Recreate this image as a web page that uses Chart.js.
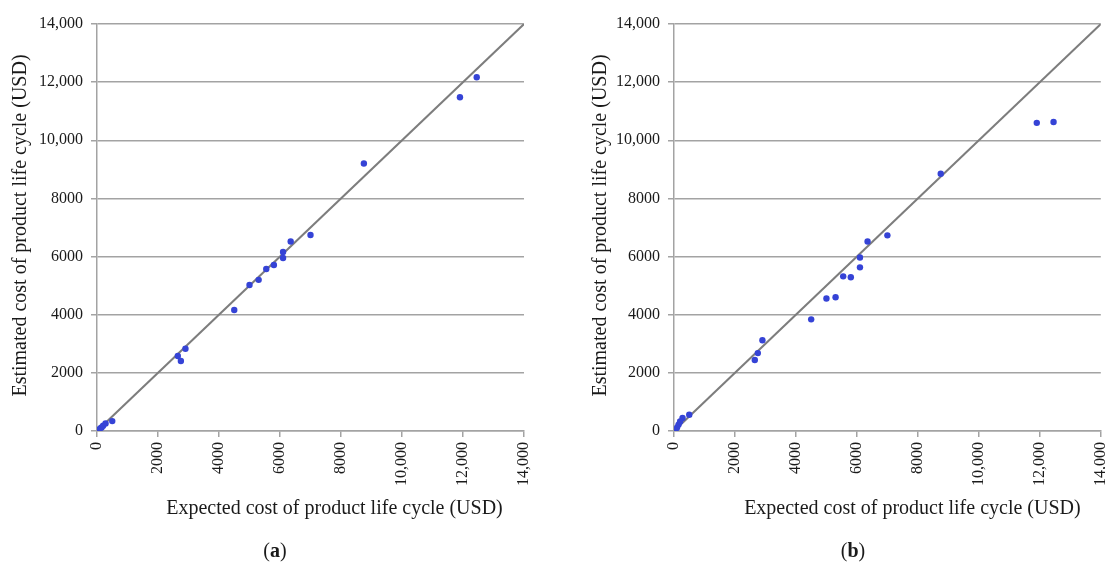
<!DOCTYPE html>
<html>
<head>
<meta charset="utf-8">
<script src="https://cdn.jsdelivr.net/npm/chart.js@4/dist/chart.umd.min.js"></script>
<style>
  html, body { margin: 0; padding: 0; background: #ffffff; }
  #wrap { position: relative; width: 1105px; height: 563px; overflow: hidden; }
  canvas { position: absolute; top: 0; }
  #cvA { left: 0; }
  #cvB { left: 560px; }
</style>
</head>
<body>
<div id="wrap">
  <canvas id="cvA" width="552" height="563"></canvas>
  <canvas id="cvB" width="565" height="563"></canvas>
</div>
<script>
// Expected life-cycle cost of each product (USD), shared by both panels
const expectedCost = [50, 100, 150, 200, 280, 500, 2650, 2750, 2900, 4500, 5000, 5300, 5550, 5800, 6100, 6100, 6350, 7000, 8750, 11900, 12450];
// Estimated life-cycle cost, panel (a)
const estimatedA = [40, 90, 120, 180, 260, 340, 2580, 2410, 2830, 4160, 5020, 5200, 5570, 5710, 5950, 6160, 6520, 6740, 9200, 11480, 12170];
// Estimated life-cycle cost, panel (b)
const estimatedB = [20, 120, 220, 330, 450, 560, 2440, 2680, 3120, 3840, 4560, 4600, 5320, 5290, 5630, 5970, 6520, 6730, 8850, 10600, 10630];
// Axis range and tick step
const axisMin = 0;
const axisMax = 14000;
const tickStep = 2000;
// Text
const xTitle = 'Expected cost of product life cycle (USD)';
const yTitle = 'Estimated cost of product life cycle (USD)';
const panelLetters = ['a', 'b'];

const SERIF = '"Liberation Serif", "Times New Roman", serif';
const GRID = '#a3a3a3';
const DOT = '#3543d6';
const REF = '#7d7d7d';

function fmtTick(v) {
  if (v >= 10000) {
    const s = String(v);
    return s.slice(0, s.length - 3) + ',' + s.slice(s.length - 3);
  }
  return String(v);
}

// Draws axis titles and the panel caption around the plot area
const decorations = {
  id: 'decorations',
  afterDraw(chart, args, opts) {
    const ctx = chart.ctx;
    const a = chart.chartArea;
    ctx.save();
    ctx.fillStyle = '#1a1a1a';
    ctx.font = '20px ' + SERIF;
    ctx.textAlign = 'center';
    ctx.textBaseline = 'alphabetic';
    ctx.fillText(xTitle, (a.left + a.right) / 2 + opts.xTitleShift, a.bottom + 83);

    ctx.save();
    ctx.translate(opts.yTitleX, (a.top + a.bottom) / 2 - 2);
    ctx.rotate(-Math.PI / 2);
    ctx.textBaseline = 'middle';
    ctx.fillText(yTitle, 0, 0);
    ctx.restore();

    // caption "(a)" / "(b)" with bold letter
    const cy = a.bottom + 126;
    ctx.font = '20px ' + SERIF;
    const wOpen = ctx.measureText('(').width;
    const wClose = ctx.measureText(')').width;
    ctx.font = 'bold 20px ' + SERIF;
    const wLetter = ctx.measureText(opts.letter).width;
    const total = wOpen + wLetter + wClose;
    let x = opts.captionX - total / 2;
    ctx.textAlign = 'left';
    ctx.font = '20px ' + SERIF;
    ctx.fillText('(', x, cy);
    x += wOpen;
    ctx.font = 'bold 20px ' + SERIF;
    ctx.fillText(opts.letter, x, cy);
    x += wLetter;
    ctx.font = '20px ' + SERIF;
    ctx.fillText(')', x, cy);
    ctx.restore();
  }
};

function makePanel(canvasId, estimated, cfg) {
  const points = expectedCost.map((x, i) => ({ x: x, y: estimated[i] }));
  const refLine = [{ x: axisMin, y: axisMin }, { x: axisMax, y: axisMax }];
  return new Chart(document.getElementById(canvasId), {
    type: 'scatter',
    data: {
      datasets: [
        {
          data: points,
          backgroundColor: DOT,
          borderColor: DOT,
          pointRadius: 3.2,
          pointBorderWidth: 0,
          order: 1
        },
        {
          type: 'line',
          data: refLine,
          borderColor: REF,
          borderWidth: 2,
          pointRadius: 0,
          fill: false,
          order: 2
        }
      ]
    },
    options: {
      responsive: false,
      animation: false,
      events: [],
      layout: { padding: { top: 24, right: cfg.padRight, left: 0, bottom: 0 } },
      plugins: {
        legend: { display: false },
        tooltip: { enabled: false },
        decorations: cfg.deco
      },
      scales: {
        x: {
          type: 'linear',
          min: axisMin,
          max: axisMax,
          afterFit(scale) { scale.height = 132; },
          ticks: {
            stepSize: tickStep,
            maxRotation: 90,
            minRotation: 90,
            padding: 5,
            color: '#1a1a1a',
            font: { family: SERIF, size: 16 },
            callback: (v) => fmtTick(v)
          },
          grid: {
            drawOnChartArea: false,
            drawTicks: true,
            tickLength: 6,
            color: GRID,
            lineWidth: 1.5
          },
          border: { display: true, color: GRID, width: 1.5 }
        },
        y: {
          type: 'linear',
          min: axisMin,
          max: axisMax,
          afterFit(scale) { scale.width = cfg.yWidth; },
          ticks: {
            stepSize: tickStep,
            padding: 8,
            color: '#1a1a1a',
            font: { family: SERIF, size: 16 },
            callback: (v) => fmtTick(v)
          },
          grid: {
            drawOnChartArea: true,
            drawTicks: true,
            tickLength: 6,
            color: GRID,
            lineWidth: 1.5
          },
          border: { display: true, color: GRID, width: 1.5 }
        }
      }
    },
    plugins: [decorations]
  });
}

makePanel('cvA', estimatedA, {
  yWidth: 97, padRight: 28,
  deco: { letter: panelLetters[0], yTitleX: 21, xTitleShift: 24, captionX: 275 }
});
makePanel('cvB', estimatedB, {
  yWidth: 114, padRight: 20,
  deco: { letter: panelLetters[1], yTitleX: 41, xTitleShift: 25, captionX: 293 }
});
</script>
</body>
</html>
